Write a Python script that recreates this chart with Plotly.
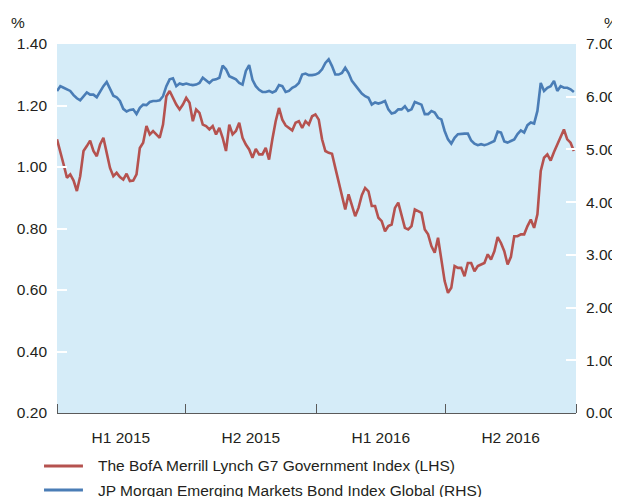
import pandas as pd
import plotly.graph_objects as go

# Dates: roughly every 4.7 days from start of 2015 to end of 2016
dates = pd.date_range("2015-01-01", "2016-12-29", periods=157)

g7_lhs = [
    1.090, 1.052, 1.008, 0.965, 0.976, 0.956, 0.922, 0.970, 1.052, 1.068,
    1.086, 1.052, 1.035, 1.073, 1.095, 1.046, 0.997, 0.970, 0.981, 0.967,
    0.959, 0.978, 0.954, 0.956, 0.976, 1.062, 1.079, 1.133, 1.106, 1.117,
    1.106, 1.095, 1.138, 1.230, 1.247, 1.225, 1.203, 1.187, 1.203,
    1.225, 1.209, 1.149, 1.187, 1.176, 1.138, 1.133, 1.122, 1.133, 1.106,
    1.127, 1.095, 1.052, 1.138, 1.106, 1.117, 1.144, 1.095, 1.073, 1.057,
    1.030, 1.059, 1.041, 1.041, 1.062, 1.024, 1.090, 1.149, 1.192, 1.154,
    1.135, 1.127, 1.119, 1.144, 1.149, 1.127, 1.149, 1.138, 1.165,
    1.171, 1.154, 1.090, 1.052, 1.046, 1.043, 0.997, 0.949, 0.900, 0.862,
    0.911, 0.876, 0.840, 0.867, 0.908, 0.932, 0.921, 0.873, 0.873, 0.835,
    0.824, 0.791, 0.808, 0.813, 0.867, 0.884, 0.846, 0.802, 0.797, 0.808,
    0.862, 0.856, 0.851, 0.797, 0.781, 0.743, 0.721, 0.770, 0.694,
    0.629, 0.591, 0.607, 0.678, 0.672, 0.672, 0.645, 0.688, 0.688, 0.661,
    0.678, 0.683, 0.688, 0.716, 0.699, 0.726, 0.772, 0.753, 0.726, 0.683,
    0.708, 0.775, 0.775, 0.781, 0.781, 0.808, 0.829, 0.802, 0.846, 0.987,
    1.030, 1.041, 1.021, 1.049, 1.073, 1.095, 1.122, 1.090, 1.079, 1.052,
]

embi_rhs = [
    6.11, 6.20, 6.17, 6.14, 6.11, 6.03, 5.97, 5.93, 6.01, 6.08,
    6.04, 6.04, 5.99, 6.11, 6.20, 6.28, 6.14, 6.02, 5.99, 5.92,
    5.77, 5.72, 5.75, 5.76, 5.67, 5.79, 5.85, 5.84, 5.90, 5.92,
    5.92, 5.93, 6.01, 6.20, 6.33, 6.35, 6.20, 6.25, 6.23,
    6.25, 6.23, 6.22, 6.23, 6.26, 6.36, 6.31, 6.26, 6.32, 6.33,
    6.36, 6.59, 6.52, 6.39, 6.36, 6.33, 6.26, 6.23, 6.49, 6.60,
    6.32, 6.20, 6.13, 6.09, 6.09, 6.11, 6.08, 6.11, 6.22, 6.20,
    6.09, 6.11, 6.17, 6.20, 6.26, 6.42, 6.44, 6.41, 6.41,
    6.42, 6.45, 6.52, 6.64, 6.71, 6.58, 6.42, 6.42, 6.45, 6.55,
    6.45, 6.30, 6.23, 6.14, 6.06, 6.01, 5.98, 5.85, 5.89, 5.87,
    5.89, 5.92, 5.76, 5.68, 5.70, 5.76, 5.76, 5.82, 5.73, 5.76,
    5.90, 5.87, 5.85, 5.67, 5.67, 5.73, 5.70, 5.60, 5.57,
    5.35, 5.19, 5.11, 5.22, 5.29, 5.30, 5.30, 5.30, 5.17, 5.11,
    5.08, 5.10, 5.08, 5.10, 5.13, 5.16, 5.34, 5.32, 5.15, 5.13,
    5.16, 5.19, 5.29, 5.36, 5.32, 5.46, 5.51, 5.49, 5.73, 6.26,
    6.11, 6.17, 6.20, 6.30, 6.11, 6.20, 6.17, 6.17, 6.14, 6.09,
]

period_labels = ["H1 2015", "H2 2015", "H1 2016", "H2 2016"]
period_mids = ["2015-04-01", "2015-10-01", "2016-04-01", "2016-10-01"]
period_bounds = ["2015-01-01", "2015-07-01", "2016-01-01", "2016-07-01", "2017-01-01"]
left_ticks = [0.2, 0.4, 0.6, 0.8, 1.0, 1.2, 1.4]
right_ticks = [0, 1, 2, 3, 4, 5, 6, 7]

series_names = [
    "The BofA Merrill Lynch G7 Government Index (LHS)",
    "JP Morgan Emerging Markets Bond Index Global (RHS)",
]

RED = "#b5524f"
BLUE = "#4a7db6"
TXT = "#231f20"
FONT = "Liberation Sans, Arial, sans-serif"
colors = [RED, BLUE]

fig = go.Figure()
fig.add_trace(go.Scatter(x=dates, y=g7_lhs, name=series_names[0], mode="lines",
                         line=dict(color=RED, width=2.6), yaxis="y"))
fig.add_trace(go.Scatter(x=dates, y=embi_rhs, name=series_names[1], mode="lines",
                         line=dict(color=BLUE, width=2.6), yaxis="y2"))

# Hand-placed legend below the chart (paper coordinates)
legend_rows_y = [-0.1436, -0.2087]
shapes = []
annotations = []
for name, col, ly in zip(series_names, colors, legend_rows_y):
    shapes.append(dict(type="line", xref="paper", yref="paper",
                       x0=-0.025, x1=0.050, y0=ly, y1=ly,
                       line=dict(color=col, width=3)))
    annotations.append(dict(text=name, xref="paper", yref="paper",
                            x=0.076, y=ly, xanchor="left", yanchor="middle",
                            showarrow=False, font=dict(size=15.5, color=TXT)))

annotations += [
    dict(text="%", xref="paper", yref="paper", x=-0.076, y=1.057,
         xanchor="center", yanchor="middle",
         showarrow=False, font=dict(size=15.5, color=TXT)),
    dict(text="%", xref="paper", yref="paper", x=1.0675, y=1.057,
         xanchor="center", yanchor="middle",
         showarrow=False, font=dict(size=15.5, color=TXT)),
]

# The page body adds an 8px offset, so the figure is sized to fill the
# remaining window area.
fig.update_layout(
    width=612, height=489,
    margin=dict(l=49, r=44, t=36, b=84, autoexpand=False),
    paper_bgcolor="white",
    plot_bgcolor="#d5ecf8",
    font=dict(family=FONT, size=15.5, color=TXT),
    showlegend=False,
    xaxis=dict(
        type="date", range=["2015-01-01", "2017-01-01"], automargin=False,
        tickmode="array", tickvals=period_mids, ticktext=period_labels,
        ticks="", showgrid=False, zeroline=False,
        showline=True, linecolor="#5a5a5a", linewidth=1,
        ticklabelstandoff=10,
        minor=dict(tickmode="array", tickvals=period_bounds, ticks="inside",
                   ticklen=9, tickcolor="#5a5a5a", tickwidth=1, showgrid=False),
    ),
    yaxis=dict(
        range=[0.2, 1.4], tickmode="array", tickvals=left_ticks, automargin=False,
        tickformat=".2f", ticks="inside", ticklen=10, tickcolor="white",
        tickwidth=1.5, showgrid=False, zeroline=False, showline=False,
        ticklabelstandoff=9,
    ),
    yaxis2=dict(
        range=[0, 7], tickmode="array", tickvals=right_ticks, automargin=False,
        tickformat=".2f", ticks="inside", ticklen=10, tickcolor="white",
        tickwidth=1.5, showgrid=False, zeroline=False, showline=False,
        overlaying="y", side="right", ticklabelstandoff=9,
    ),
    shapes=shapes,
    annotations=annotations,
)

fig.write_html("out.html")
